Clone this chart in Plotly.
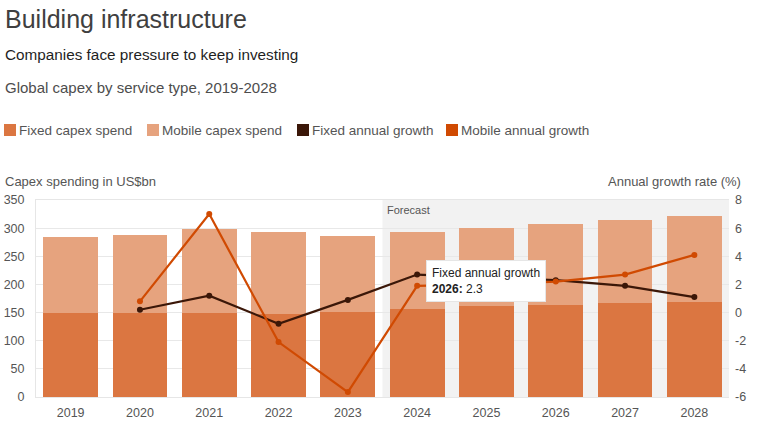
import plotly.graph_objects as go

years = [2019, 2020, 2021, 2022, 2023, 2024, 2025, 2026, 2027, 2028]
fixed_capex = [149, 149, 150, 148, 151, 156, 161, 164, 167, 169]
mobile_capex = [136, 138, 148, 145, 135, 138, 140, 143, 147, 153]
growth_years = [2020, 2021, 2022, 2023, 2024, 2025, 2026, 2027, 2028]
fixed_growth = [0.2, 1.2, -0.8, 0.9, 2.7, 2.5, 2.3, 1.9, 1.1]
mobile_growth = [0.8, 7.0, -2.1, -5.65, 1.9, 2.0, 2.2, 2.7, 4.1]
left_ticks = [0, 50, 100, 150, 200, 250, 300, 350]
right_ticks = [-6, -4, -2, 0, 2, 4, 6, 8]
legend_names = ["Fixed capex spend", "Mobile capex spend", "Fixed annual growth", "Mobile annual growth"]

C_FIXED = "#DB7641"
C_MOBILE = "#E6A37E"
C_FG = "#3B1708"
C_MG = "#D04A02"
legend_colors = [C_FIXED, C_MOBILE, C_FG, C_MG]
FONT = "Liberation Sans, Arial, sans-serif"

fig = go.Figure()
fig.add_trace(go.Bar(x=years, y=fixed_capex, name=legend_names[0],
                     marker=dict(color=C_FIXED, line=dict(width=0)), width=0.79))
fig.add_trace(go.Bar(x=years, y=mobile_capex, name=legend_names[1],
                     marker=dict(color=C_MOBILE, line=dict(width=0)), width=0.79))
fig.add_trace(go.Scatter(x=growth_years, y=fixed_growth, yaxis="y2", mode="lines+markers",
                         line=dict(color=C_FG, width=2.2), marker=dict(size=6, color=C_FG),
                         name=legend_names[2]))
fig.add_trace(go.Scatter(x=growth_years, y=mobile_growth, yaxis="y2", mode="lines+markers",
                         line=dict(color=C_MG, width=2.2), marker=dict(size=6, color=C_MG),
                         name=legend_names[3]))

fig.add_shape(type="rect", xref="x", yref="y domain", x0=2023.5, x1=2028.5, y0=0, y1=1,
              fillcolor="#F2F2F2", line=dict(width=0), layer="below")

# legend drawn as square swatches + text (offsets in pixels from plot top-left)
swatch_x = [4, 147, 297, 446]
annotations = []
for name, col, sx in zip(legend_names, legend_colors, swatch_x):
    fig.add_shape(type="rect", xref="paper", yref="paper", xsizemode="pixel", ysizemode="pixel",
                  xanchor=0, yanchor=1, x0=sx - 36, x1=sx - 36 + 12, y0=64, y1=76,
                  fillcolor=col, line=dict(width=0))
    annotations.append(dict(text=name, x=0, y=1, xref="paper", yref="paper",
                            xanchor="left", yanchor="middle", xshift=sx - 36 + 13, yshift=70,
                            font=dict(size=13.5, color="#555555"), showarrow=False))

annotations += [
    dict(text="Building infrastructure", x=0, y=1, xref="paper", yref="paper",
         xanchor="left", yanchor="top", xshift=-33, yshift=197,
         font=dict(size=25, color="#404040"), showarrow=False),
    dict(text="Companies face pressure to keep investing", x=0, y=1, xref="paper", yref="paper",
         xanchor="left", yanchor="top", xshift=-33, yshift=156,
         font=dict(size=15.3, color="#1F1F1F"), showarrow=False),
    dict(text="Global capex by service type, 2019-2028", x=0, y=1, xref="paper", yref="paper",
         xanchor="left", yanchor="top", xshift=-33, yshift=123,
         font=dict(size=15, color="#4D4D4D"), showarrow=False),
    dict(text="Capex spending in US$bn", x=0, y=1, xref="paper", yref="paper",
         xanchor="left", yanchor="bottom", xshift=-33, yshift=9,
         font=dict(size=13, color="#555555"), showarrow=False),
    dict(text="Annual growth rate (%)", x=1, y=1, xref="paper", yref="paper",
         xanchor="right", yanchor="bottom", xshift=14, yshift=9,
         font=dict(size=13, color="#555555"), showarrow=False),
    dict(text="Forecast", x=2023.5, y=1, xref="x", yref="y domain",
         xanchor="left", yanchor="top", xshift=2, yshift=-2,
         font=dict(size=11, color="#555555"), showarrow=False),
    dict(text="Fixed annual growth<br><b>2026:</b> 2.3", x=years[7], y=fixed_growth[6],
         xref="x", yref="y2", xanchor="right", yanchor="middle", xshift=-10, yshift=-1,
         align="left", bgcolor="white", bordercolor="#E6E6E6", borderwidth=1, borderpad=5,
         font=dict(size=12, color="#222222"), showarrow=False),
]

fig.update_layout(
    width=759, height=427,
    margin=dict(l=36, r=30, t=200, b=30, autoexpand=False),
    paper_bgcolor="white", plot_bgcolor="white",
    barmode="stack", bargap=0.21,
    font=dict(family=FONT, color="#555555"),
    showlegend=False,
    xaxis=dict(tickmode="array", tickvals=years, ticktext=[str(y) for y in years],
               range=[2018.5, 2028.5], showgrid=False, zeroline=False, automargin=False,
               showline=True, linecolor="#E6E6E6", mirror=True, ticklabelstandoff=4,
               tickfont=dict(size=12.5, color="#555555"), ticks=""),
    yaxis=dict(range=[0, 350], tickmode="array", tickvals=left_ticks,
               ticktext=[str(v) for v in left_ticks], showgrid=True, gridcolor="#E8E8E8",
               zeroline=False, showline=True, linecolor="#E6E6E6", automargin=False,
               ticklabelstandoff=8,
               tickfont=dict(size=12.5, color="#555555"), ticks=""),
    yaxis2=dict(range=[-6, 8], tickmode="array", tickvals=right_ticks,
                ticktext=[str(v) for v in right_ticks], overlaying="y", side="right",
                showgrid=False, automargin=False, ticklabelstandoff=5,
                zeroline=False, tickfont=dict(size=12.5, color="#555555"), ticks=""),
    annotations=annotations,
    hovermode=False,
)

fig.write_html("out.html", config={"displayModeBar": False},
               post_script="document.body.style.margin='0';")
